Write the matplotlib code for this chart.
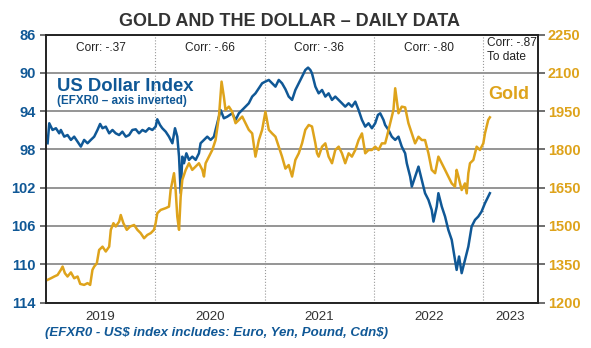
import numpy as np
import matplotlib.pyplot as plt

plt.rcParams['font.family'] = ['Liberation Sans', 'DejaVu Sans']

BLUE = "#105896"
GOLD = "#dea31b"
GRID = "#8c8c8c"

# US dollar index (EFXR0), daily readings (decimal year, index level)
dollarYear = [2019.015, 2019.030, 2019.060, 2019.091, 2019.121, 2019.136, 2019.167, 2019.197, 2019.228, 2019.258,
              2019.289, 2019.319, 2019.349, 2019.380, 2019.410, 2019.441, 2019.471, 2019.495, 2019.517, 2019.547,
              2019.578, 2019.608, 2019.638, 2019.669, 2019.699, 2019.730, 2019.760, 2019.790, 2019.821, 2019.851,
              2019.882, 2019.912, 2019.942, 2019.973, 2020.003, 2020.018, 2020.043, 2020.064, 2020.095, 2020.125,
              2020.156, 2020.180, 2020.201, 2020.217, 2020.232, 2020.247, 2020.262, 2020.284, 2020.308, 2020.338,
              2020.369, 2020.399, 2020.414, 2020.445, 2020.475, 2020.506, 2020.536, 2020.551, 2020.582, 2020.597,
              2020.627, 2020.658, 2020.703, 2020.734, 2020.764, 2020.795, 2020.825, 2020.855, 2020.886, 2020.916,
              2020.947, 2020.977, 2021.007, 2021.038, 2021.068, 2021.099, 2021.129, 2021.159, 2021.190, 2021.220,
              2021.251, 2021.281, 2021.312, 2021.342, 2021.372, 2021.397, 2021.418, 2021.433, 2021.464, 2021.494,
              2021.525, 2021.555, 2021.585, 2021.616, 2021.646, 2021.677, 2021.707, 2021.737, 2021.768, 2021.798,
              2021.829, 2021.859, 2021.890, 2021.920, 2021.950, 2021.981, 2022.011, 2022.036, 2022.057, 2022.087,
              2022.102, 2022.133, 2022.163, 2022.194, 2022.224, 2022.254, 2022.285, 2022.300, 2022.331, 2022.346,
              2022.376, 2022.407, 2022.437, 2022.467, 2022.498, 2022.528, 2022.544, 2022.574, 2022.589, 2022.620,
              2022.650, 2022.680, 2022.711, 2022.741, 2022.756, 2022.778, 2022.802, 2022.832, 2022.863, 2022.893,
              2022.924, 2022.954, 2022.984, 2023.015, 2023.030, 2023.060]
dollarIndex = [97.35, 95.26, 95.96, 95.78, 96.31, 95.96, 96.66, 96.49, 97.00, 96.66,
               97.18, 97.70, 97.00, 97.35, 97.00, 96.66, 95.96, 95.33, 95.78, 95.61,
               96.31, 95.96, 96.31, 96.49, 96.14, 96.66, 96.49, 95.96, 95.89, 96.31,
               95.96, 96.14, 95.78, 95.96, 95.61, 94.84, 95.44, 95.78, 96.14, 96.66,
               97.35, 95.78, 96.66, 98.75, 102.57, 98.75, 99.44, 98.40, 99.09, 98.75,
               99.09, 98.40, 97.35, 97.00, 96.66, 97.00, 96.66, 95.96, 94.57, 93.87,
               94.74, 94.57, 94.22, 94.91, 94.22, 93.87, 93.52, 93.17, 92.47, 92.13,
               91.60, 91.08, 90.90, 90.73, 91.08, 91.43, 90.73, 91.08, 91.70, 92.47,
               92.82, 91.78, 91.08, 90.39, 89.69, 89.44, 89.69, 90.04, 91.43, 92.13,
               91.78, 92.47, 92.13, 92.82, 92.47, 92.82, 93.17, 93.52, 93.17, 93.52,
               93.00, 93.87, 94.91, 95.61, 95.26, 95.78, 95.26, 94.39, 94.22, 94.91,
               95.44, 95.96, 96.66, 97.00, 96.66, 97.70, 98.40, 99.44, 100.84, 101.88,
               100.84, 99.79, 101.18, 102.57, 103.27, 104.32, 105.54, 103.97, 102.57, 103.97,
               105.01, 106.41, 107.45, 109.54, 110.59, 109.19, 110.93, 109.54, 108.15, 106.06,
               105.36, 105.01, 104.49, 103.62, 103.27, 102.57]

# Gold price, US$ per ounce (decimal year, price)
goldYear = [2019.015, 2019.045, 2019.076, 2019.106, 2019.136, 2019.152, 2019.173, 2019.197, 2019.228, 2019.258,
            2019.289, 2019.313, 2019.349, 2019.380, 2019.404, 2019.425, 2019.441, 2019.465, 2019.486, 2019.517,
            2019.547, 2019.578, 2019.593, 2019.617, 2019.638, 2019.669, 2019.684, 2019.708, 2019.739, 2019.769,
            2019.806, 2019.836, 2019.866, 2019.897, 2019.927, 2019.958, 2019.988, 2020.003, 2020.018, 2020.049,
            2020.095, 2020.125, 2020.140, 2020.171, 2020.186, 2020.201, 2020.217, 2020.232, 2020.247, 2020.278,
            2020.308, 2020.338, 2020.369, 2020.399, 2020.430, 2020.445, 2020.460, 2020.490, 2020.521, 2020.551,
            2020.582, 2020.606, 2020.627, 2020.642, 2020.673, 2020.703, 2020.734, 2020.764, 2020.795, 2020.825,
            2020.855, 2020.886, 2020.916, 2020.947, 2020.977, 2021.007, 2021.038, 2021.068, 2021.099, 2021.129,
            2021.159, 2021.190, 2021.220, 2021.251, 2021.281, 2021.312, 2021.342, 2021.372, 2021.403, 2021.433,
            2021.464, 2021.479, 2021.494, 2021.525, 2021.555, 2021.585, 2021.616, 2021.646, 2021.677, 2021.707,
            2021.737, 2021.768, 2021.798, 2021.829, 2021.859, 2021.890, 2021.920, 2021.950, 2021.981, 2022.011,
            2022.042, 2022.072, 2022.102, 2022.118, 2022.148, 2022.178, 2022.194, 2022.224, 2022.254, 2022.285,
            2022.315, 2022.346, 2022.376, 2022.407, 2022.437, 2022.467, 2022.498, 2022.528, 2022.559, 2022.589,
            2022.620, 2022.650, 2022.680, 2022.711, 2022.741, 2022.756, 2022.772, 2022.802, 2022.832, 2022.848,
            2022.863, 2022.878, 2022.909, 2022.939, 2022.969, 2023.000, 2023.015, 2023.030, 2023.045, 2023.060]
goldPrice = [1289, 1295, 1302, 1308, 1328, 1341, 1315, 1302, 1318, 1295,
             1302, 1273, 1269, 1276, 1269, 1328, 1341, 1354, 1406, 1419,
             1400, 1419, 1485, 1511, 1498, 1517, 1543, 1511, 1485, 1498,
             1504, 1485, 1472, 1452, 1465, 1472, 1485, 1511, 1550, 1563,
             1570, 1576, 1641, 1707, 1641, 1537, 1485, 1615, 1681, 1720,
             1746, 1720, 1733, 1746, 1720, 1694, 1746, 1772, 1798, 1837,
             1929, 2066, 2007, 1955, 1968, 1948, 1903, 1916, 1929, 1903,
             1877, 1863, 1772, 1837, 1877, 1948, 1877, 1863, 1850, 1811,
             1772, 1725, 1739, 1694, 1759, 1785, 1824, 1877, 1896, 1890,
             1824, 1785, 1772, 1811, 1824, 1772, 1746, 1798, 1811, 1785,
             1746, 1785, 1772, 1798, 1837, 1863, 1785, 1798, 1798, 1811,
             1798, 1824, 1824, 1850, 1903, 1955, 2040, 1942, 1968, 1965,
             1903, 1863, 1824, 1850, 1837, 1837, 1785, 1720, 1707, 1772,
             1746, 1720, 1694, 1667, 1654, 1720, 1694, 1641, 1667, 1628,
             1707, 1746, 1759, 1811, 1798, 1824, 1863, 1890, 1916, 1926]

dollarTicks = [86, 90, 94, 98, 102, 106, 110, 114]
goldTicks = [1200, 1350, 1500, 1650, 1800, 1950, 2100, 2250]
yearBreaks = [2020, 2021, 2022, 2023]
yearLabelPos = [2019.5, 2020.5, 2021.5, 2022.5, 2023.25]
yearLabels = ["2019", "2020", "2021", "2022", "2023"]
corrPos = [2019.5, 2020.5, 2021.5, 2022.5]
corrLabels = ["Corr: -.37", "Corr: -.66", "Corr: -.36", "Corr: -.80"]


def main():
    fig = plt.figure(figsize=(5.91, 3.48), dpi=100)
    ax = fig.add_axes([0.0778, 0.1307, 0.8325, 0.7696])

    ax.plot(dollarYear, dollarIndex, color=BLUE, lw=1.8, zorder=3)
    ax.set_xlim(2019, 2023.5)
    ax.set_ylim(114, 86)  # inverted dollar axis
    ax.set_yticks(dollarTicks)
    ax.grid(axis='y', color=GRID, lw=1.3)
    ax.set_axisbelow(True)
    for yr in yearBreaks:
        ax.axvline(yr, color="#999999", ls=':', lw=0.8, zorder=1)

    ax.set_xticks(yearBreaks)
    ax.set_xticklabels([])
    ax.set_xticks(yearLabelPos, minor=True)
    ax.set_xticklabels(yearLabels, minor=True)
    ax.tick_params(axis='x', which='both', length=0, pad=6, labelsize=9.6, labelcolor="#333333")
    ax.tick_params(axis='y', length=4, width=1.2, color="#555555", pad=3.5, labelsize=10.5, labelcolor=BLUE)
    for lab in ax.get_yticklabels():
        lab.set_fontweight('bold')
    for s in ax.spines.values():
        s.set_color("#222222")
        s.set_linewidth(1.2)

    ax2 = ax.twinx()
    ax2.plot(goldYear, goldPrice, color=GOLD, lw=1.8)
    ax2.set_ylim(1200, 2250)
    ax2.set_yticks(goldTicks)
    ax2.tick_params(axis='y', length=5, width=1.2, color="#555555", pad=2, labelsize=10.5, labelcolor=GOLD)
    for lab in ax2.get_yticklabels():
        lab.set_fontweight('bold')
    for s in ax2.spines.values():
        s.set_color("#222222")
        s.set_linewidth(1.2)

    tr = ax.get_xaxis_transform()
    for x, t in zip(corrPos, corrLabels):
        ax.text(x, 0.950, t, transform=tr, ha='center', va='center', fontsize=8.6, color="#222222")
    ax.text(2023.03, 0.99, "Corr: -.87\nTo date", transform=tr, ha='left', va='top',
            fontsize=8.6, color="#222222", linespacing=1.15)

    ax.text(0.022, 0.808, "US Dollar Index", transform=ax.transAxes, ha='left', va='center',
            fontsize=13.3, fontweight='bold', color=BLUE)
    ax.text(0.022, 0.752, "(EFXR0 \u2013 axis inverted)", transform=ax.transAxes, ha='left', va='center',
            fontsize=8.4, fontweight='bold', color=BLUE)
    ax.text(0.898, 0.775, "Gold", transform=ax.transAxes, ha='left', va='center',
            fontsize=13, fontweight='bold', color=GOLD)

    fig.text(0.49, 0.937, "GOLD AND THE DOLLAR \u2013 DAILY DATA", ha='center', va='center',
             fontsize=13, fontweight='bold', color="#333333")
    fig.text(0.076, 0.043, r"(EFXR0 - US\$ index includes: Euro, Yen, Pound, Cdn\$)", ha='left', va='center',
             fontsize=9.5, fontweight='bold', fontstyle='italic', color=BLUE)

    fig.savefig("out.png", dpi=100)


if __name__ == '__main__':
    main()
